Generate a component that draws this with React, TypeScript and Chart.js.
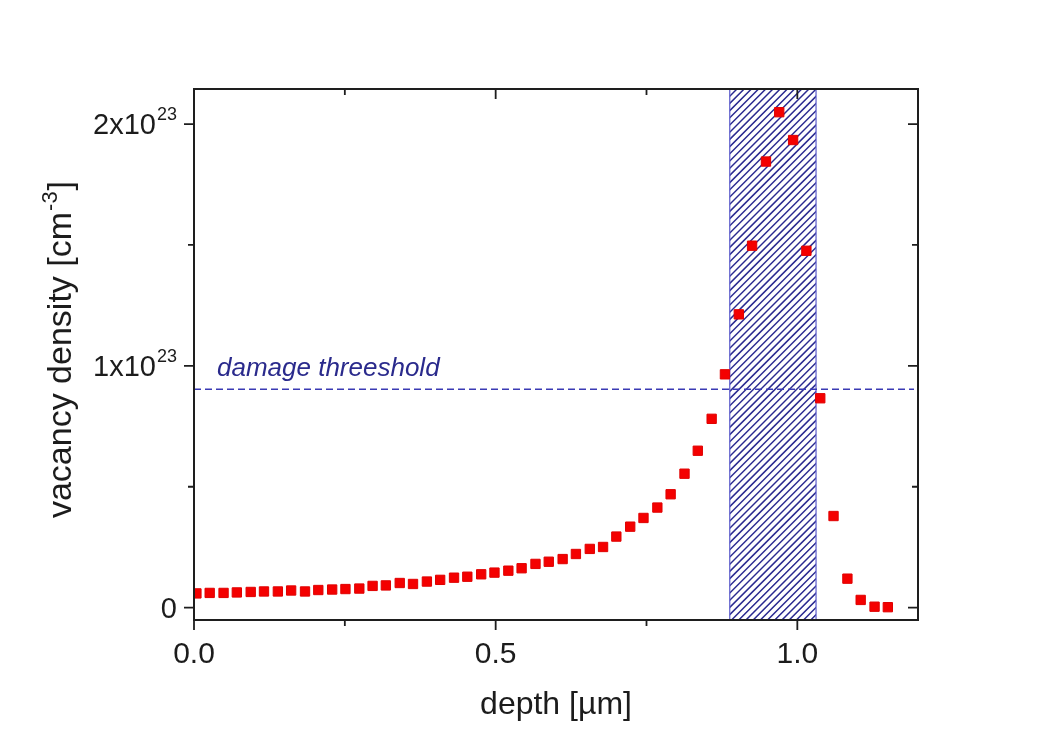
import React, { useEffect, useRef } from 'react';
import { Chart, registerables } from 'chart.js';

Chart.register(...registerables);

// depth [µm]
const depth = [
  0.004, 0.026, 0.049, 0.071, 0.094, 0.116, 0.139, 0.161, 0.184, 0.206,
  0.229, 0.251, 0.274, 0.296, 0.318, 0.341, 0.363, 0.386, 0.408, 0.431,
  0.453, 0.476, 0.498, 0.521, 0.543, 0.566, 0.588, 0.611, 0.633, 0.656,
  0.678, 0.700, 0.723, 0.745, 0.768, 0.790, 0.813, 0.835, 0.858, 0.880,
  0.903, 0.925, 0.948, 0.970, 0.993, 1.015, 1.038, 1.060, 1.083, 1.105,
  1.128, 1.150,
];

// vacancy density in units of 1e23 cm^-3
const vacancy = [
  0.059, 0.061, 0.061, 0.063, 0.065, 0.067, 0.067, 0.071, 0.067, 0.073,
  0.075, 0.077, 0.079, 0.090, 0.092, 0.102, 0.098, 0.108, 0.115, 0.124,
  0.128, 0.138, 0.145, 0.153, 0.163, 0.181, 0.190, 0.201, 0.222, 0.243,
  0.251, 0.294, 0.335, 0.371, 0.414, 0.469, 0.554, 0.649, 0.781, 0.965,
  1.213, 1.497, 1.845, 2.049, 1.934, 1.476, 0.866, 0.379, 0.120, 0.032,
  0.004, 0.002,
];

const threshold = 0.903;
const thresholdLabel = 'damage threeshold';
const hatchRange = [0.888, 1.031];

const xRange = [0, 1.2];
const yRange = [-0.051, 2.145];

const xMajorTicks = [0, 0.5, 1.0];
const xMinorTicks = [0.25, 0.75];
const xTickLabels = ['0.0', '0.5', '1.0'];

const yMajorTicks = [0, 1, 2];
const yMinorTicks = [0.5, 1.5];
const yTickBase = ['0', '1x10', '2x10'];
const yTickExp = ['', '23', '23'];

const xTitle = 'depth [\u00b5m]';
const yTitleMain = 'vacancy density [cm';
const yTitleExp = '-3';
const yTitleEnd = ']';

const FONT = '"Liberation Sans", Arial, sans-serif';
const TEXT = '#1c1c1c';

const overlayPlugin = {
  id: 'overlay',
  beforeDatasetsDraw(chart: any) {
    const { ctx, chartArea: a, scales } = chart;
    const x = scales.x;
    const y = scales.y;
    const x0 = x.getPixelForValue(hatchRange[0]);
    const x1 = x.getPixelForValue(hatchRange[1]);
    const h = a.bottom - a.top;

    // hatched band
    ctx.save();
    ctx.beginPath();
    ctx.rect(x0, a.top, x1 - x0, h);
    ctx.clip();
    ctx.strokeStyle = '#2a2a90';
    ctx.lineWidth = 1.5;
    ctx.beginPath();
    for (let sx = x0 - h; sx < x1 + 2; sx += 7.2) {
      ctx.moveTo(sx, a.bottom);
      ctx.lineTo(sx + h, a.top);
    }
    ctx.stroke();
    ctx.restore();

    ctx.save();
    ctx.strokeStyle = '#5c5ccc';
    ctx.lineWidth = 1.2;
    ctx.strokeRect(x0, a.top, x1 - x0, h);
    ctx.restore();

    // threshold dashed line
    const ty = y.getPixelForValue(threshold);
    ctx.save();
    ctx.setLineDash([7, 4]);
    ctx.strokeStyle = '#3a3ab4';
    ctx.lineWidth = 1.5;
    ctx.beginPath();
    ctx.moveTo(a.left, ty);
    ctx.lineTo(a.right - 4, ty);
    ctx.stroke();
    ctx.restore();

    ctx.save();
    ctx.font = `italic 26px ${FONT}`;
    ctx.fillStyle = '#2a2a8c';
    ctx.textAlign = 'left';
    ctx.textBaseline = 'alphabetic';
    ctx.fillText(thresholdLabel, a.left + 23, ty - 13);
    ctx.restore();
  },
  afterDatasetsDraw(chart: any) {
    const { ctx, chartArea: a, scales } = chart;
    const x = scales.x;
    const y = scales.y;

    ctx.save();
    ctx.strokeStyle = '#1e1e1e';
    ctx.lineWidth = 2;
    ctx.strokeRect(a.left, a.top, a.right - a.left, a.bottom - a.top);

    ctx.lineWidth = 1.8;
    ctx.beginPath();
    const xt = (vals: number[], len: number) => {
      vals.forEach((v) => {
        const px = x.getPixelForValue(v);
        ctx.moveTo(px, a.bottom);
        ctx.lineTo(px, a.bottom + len);
        ctx.moveTo(px, a.top);
        ctx.lineTo(px, a.top + len);
      });
    };
    const yt = (vals: number[], len: number) => {
      vals.forEach((v) => {
        const py = y.getPixelForValue(v);
        ctx.moveTo(a.left, py);
        ctx.lineTo(a.left - len, py);
        ctx.moveTo(a.right, py);
        ctx.lineTo(a.right - len, py);
      });
    };
    xt(xMajorTicks, 10);
    xt(xMinorTicks, 6);
    yt(yMajorTicks, 10);
    yt(yMinorTicks, 6);
    ctx.stroke();
    ctx.restore();

    // y tick labels with superscript exponent
    ctx.save();
    ctx.fillStyle = TEXT;
    ctx.textBaseline = 'alphabetic';
    ctx.textAlign = 'right';
    const rightEdge = a.left - 17;
    yMajorTicks.forEach((v, i) => {
      const py = y.getPixelForValue(v);
      let r = rightEdge;
      if (yTickExp[i]) {
        ctx.font = `18px ${FONT}`;
        ctx.fillText(yTickExp[i], r, py - 4);
        r -= ctx.measureText(yTickExp[i]).width + 1;
      }
      ctx.font = `29px ${FONT}`;
      ctx.fillText(yTickBase[i], r, py + 10);
    });
    ctx.restore();

    // y title (rotated) with superscript
    ctx.save();
    const cy = (a.top + a.bottom) / 2 - 5;
    ctx.translate(71, cy);
    ctx.rotate(-Math.PI / 2);
    ctx.fillStyle = TEXT;
    ctx.textAlign = 'left';
    ctx.textBaseline = 'alphabetic';
    ctx.font = `34px ${FONT}`;
    const w1 = ctx.measureText(yTitleMain).width;
    const w3 = ctx.measureText(yTitleEnd).width;
    ctx.font = `22px ${FONT}`;
    const w2 = ctx.measureText(yTitleExp).width;
    const total = w1 + w2 + w3 + 2;
    let sx = -total / 2;
    ctx.font = `34px ${FONT}`;
    ctx.fillText(yTitleMain, sx, 0);
    sx += w1 + 1;
    ctx.font = `22px ${FONT}`;
    ctx.fillText(yTitleExp, sx, -14);
    sx += w2 + 1;
    ctx.font = `34px ${FONT}`;
    ctx.fillText(yTitleEnd, sx, 0);
    ctx.restore();
  },
};

export default function App() {
  const ref = useRef<HTMLCanvasElement | null>(null);

  useEffect(() => {
    document.body.style.margin = '0';
    const canvas = ref.current;
    if (!canvas) return;
    const chart = new Chart(canvas, {
      type: 'scatter',
      data: {
        datasets: [
          {
            label: 'vacancy density',
            data: depth.map((d, i) => ({ x: d, y: vacancy[i] })),
            pointStyle: 'rect',
            pointRadius: 6.6,
            pointHoverRadius: 6.6,
            backgroundColor: '#f40000',
            borderColor: '#e00000',
            borderWidth: 1,
            showLine: false,
          },
        ],
      },
      options: {
        animation: false,
        responsive: false,
        events: [],
        layout: { padding: { top: 89, right: 135, left: 0, bottom: 0 } },
        plugins: {
          legend: { display: false },
          tooltip: { enabled: false },
        },
        scales: {
          x: {
            type: 'linear',
            min: xRange[0],
            max: xRange[1],
            grid: { display: false },
            border: { display: false },
            afterBuildTicks: (scale: any) => {
              scale.ticks = xMajorTicks.map((v) => ({ value: v }));
            },
            afterFit: (scale: any) => {
              scale.height = 120;
            },
            ticks: {
              autoSkip: false,
              maxRotation: 0,
              padding: 9,
              color: TEXT,
              font: { size: 30, family: FONT },
              callback: (v: any) => {
                const i = xMajorTicks.indexOf(Number(v));
                return i >= 0 ? xTickLabels[i] : '';
              },
            },
            title: {
              display: true,
              text: xTitle,
              color: TEXT,
              font: { size: 32, family: FONT },
              padding: { top: 0, bottom: 16 },
            },
          },
          y: {
            type: 'linear',
            min: yRange[0],
            max: yRange[1],
            grid: { display: false },
            border: { display: false },
            ticks: { display: false },
            afterFit: (scale: any) => {
              scale.width = 194;
            },
          },
        },
      },
      plugins: [overlayPlugin],
    } as any);
    return () => chart.destroy();
  }, []);

  return (
    <div style={{ width: 1053, height: 740, background: '#ffffff' }}>
      <canvas ref={ref} width={1053} height={740} />
    </div>
  );
}
